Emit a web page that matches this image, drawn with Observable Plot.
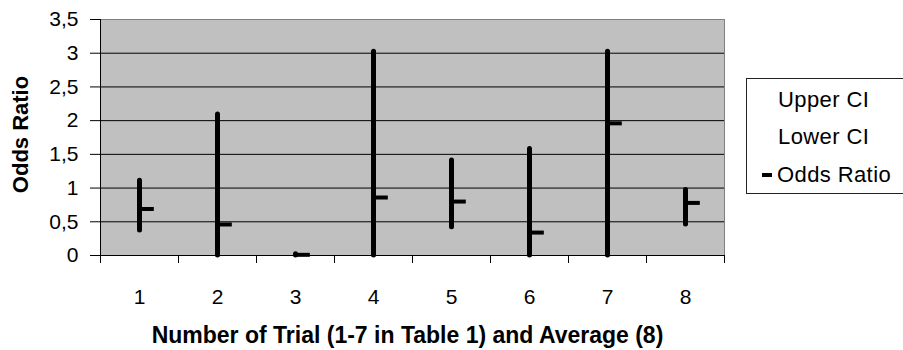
<!DOCTYPE html>
<html>
<head>
<meta charset="utf-8">
<script src="https://cdn.jsdelivr.net/npm/d3@7"></script>
<script src="https://cdn.jsdelivr.net/npm/@observablehq/plot@0.6"></script>
<style>
  html, body { margin: 0; padding: 0; background: #fff; }
  #wrap { position: relative; width: 903px; height: 350px; overflow: hidden; font-family: "Liberation Sans", Arial, sans-serif; }
  #legend { position: absolute; left: 746px; top: 78px; width: 170px; height: 116px; border: 1px solid #222; background: #fff; box-sizing: border-box; font-size: 22px; letter-spacing: 0.4px; }
  #legend .item { position: absolute; white-space: nowrap; line-height: 26px; }
  #legend .mk { display: inline-block; width: 10px; height: 4px; background: #000; vertical-align: middle; margin-right: 5px; position: relative; top: -1px; }
</style>
</head>
<body>
<div id="wrap"></div>
<script>
const trials = [1, 2, 3, 4, 5, 6, 7, 8];
const upperCI = [1.11, 2.09, 0.02, 3.02, 1.41, 1.58, 3.02, 0.97];
const lowerCI = [0.37, 0.00, 0.00, 0.00, 0.42, 0.00, 0.00, 0.46];
const oddsRatio = [0.69, 0.46, 0.01, 0.86, 0.80, 0.34, 1.96, 0.78];
const yTicks = [0, 0.5, 1, 1.5, 2, 2.5, 3, 3.5];
const seriesNames = ["Upper CI", "Lower CI", "Odds Ratio"];
const yTitle = "Odds Ratio";
const xTitle = "Number of Trial (1-7 in Table 1) and Average (8)";

const data = trials.map((t, i) => ({trial: t, upper: upperCI[i], lower: lowerCI[i], or: oddsRatio[i]}));
const boundaries = trials.map(t => t - 0.5).concat([trials[trials.length - 1] + 0.5]);
const fmt = d => String(d).replace(".", ",");

const chart = Plot.plot({
  width: 903,
  height: 350,
  marginLeft: 100,
  marginRight: 179,
  marginTop: 19,
  marginBottom: 95,
  style: {fontFamily: "'Liberation Sans', Arial, sans-serif", fontSize: "21px", color: "#000", background: "#fff", overflow: "visible"},
  x: {type: "linear", domain: [0.5, 8.5]},
  y: {type: "linear", domain: [0, 3.5]},
  marks: [
    Plot.frame({fill: "#c0c0c0", stroke: "#808080"}),
    Plot.ruleY(yTicks.slice(1, -1), {stroke: "#000", strokeWidth: 1}),
    Plot.axisY({ticks: yTicks, tickFormat: fmt, tickSize: 10, tickPadding: 12, label: null, fontSize: 21, stroke: "#000", strokeOpacity: 1}),
    Plot.ruleX([0.5], {stroke: "#000"}),
    Plot.ruleY([0], {stroke: "#000"}),
    Plot.axisX({ticks: boundaries, tickSize: 8, text: null, label: null, stroke: "#000", strokeOpacity: 1}),
    Plot.axisX({ticks: trials, tickSize: 0, tickPadding: 34, label: null, fontSize: 21}),
    Plot.text([yTitle], {frameAnchor: "left", textAnchor: "middle", dx: -80, dy: -3, rotate: -90, fontWeight: "bold", fontSize: 22}),
    Plot.text([xTitle], {frameAnchor: "bottom", dy: 87, dx: -5, fontWeight: "bold", fontSize: 23}),
    Plot.ruleX(data, {x: "trial", y1: "lower", y2: "upper", stroke: "#000", strokeWidth: 5, strokeLinecap: "round"}),
    Plot.ruleY(data, {y: "or", x1: "trial", x2: d => d.trial + 0.19, stroke: "#000", strokeWidth: 4})
  ]
});

const wrap = document.getElementById("wrap");
wrap.appendChild(chart);

const legend = document.createElement("div");
legend.id = "legend";
const tops = [8, 45, 83];
seriesNames.forEach((name, i) => {
  const it = document.createElement("div");
  it.className = "item";
  it.style.top = tops[i] + "px";
  if (i === 2) {
    it.innerHTML = '<span class="mk"></span>' + name;
    it.style.left = "15px";
  } else {
    it.textContent = name;
    it.style.left = "31px";
  }
  legend.appendChild(it);
});
wrap.appendChild(legend);
</script>
</body>
</html>
